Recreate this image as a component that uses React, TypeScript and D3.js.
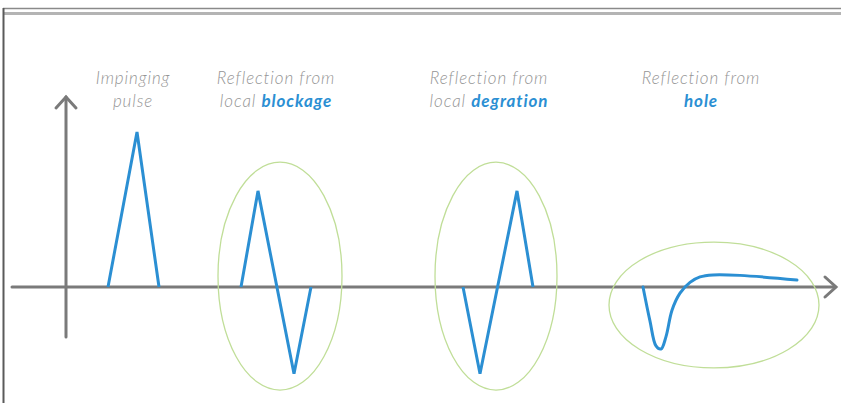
import * as d3 from 'd3'
import React from 'react'

// time units along the axis (origin = vertical axis), amplitude in units of the impinging pulse
const impinging: [number, number][] = [[42, 0], [71, 1], [93, 0]]
const blockage: [number, number][] = [[175, 0], [192, 0.62], [228, -0.56], [245, 0]]
const degration: [number, number][] = [[397, 0], [414, -0.56], [451, 0.62], [467, 0]]
const hole: [number, number][] = [
  [577, 0], [584, -0.22], [590, -0.38], [595, -0.4], [600, -0.32], [606, -0.15],
  [614, -0.04], [624, 0.03], [634, 0.065], [647, 0.078], [674, 0.075], [731, 0.045],
]

// ellipses around reflections: cx, cy, rx, ry (same units)
const rings = [
  { cx: 214, cy: 0.07, rx: 62, ry: 0.735 },
  { cx: 430, cy: 0.07, rx: 61, ry: 0.735 },
  { cx: 648, cy: -0.116, rx: 105, ry: 0.406 },
]

const labels = [
  { x: 67, lines: [[{ t: 'Impinging', hi: false }], [{ t: 'pulse', hi: false }]] },
  { x: 210, lines: [[{ t: 'Reflection from', hi: false }], [{ t: 'local ', hi: false }, { t: 'blockage', hi: true }]] },
  { x: 423, lines: [[{ t: 'Reflection from', hi: false }], [{ t: 'local ', hi: false }, { t: 'degration', hi: true }]] },
  { x: 635, lines: [[{ t: 'Reflection from', hi: false }], [{ t: 'hole', hi: true }]] },
]

const W = 841
const H = 403
const blue = '#2b8fd3'
const axisGrey = '#7a7a7a'

const x = d3.scaleLinear().domain([0, 770]).range([66, 836])
const y = d3.scaleLinear().domain([-1, 1]).range([442, 132])

const straight = d3.line<[number, number]>().x((d) => x(d[0])).y((d) => y(d[1]))
const smooth = d3
  .line<[number, number]>()
  .x((d) => x(d[0]))
  .y((d) => y(d[1]))
  .curve(d3.curveCatmullRom.alpha(0.5))

const App = () => {
  const x0 = x(0)
  const y0 = y(0)
  return (
    <svg
      width={W}
      height={H}
      style={{ position: 'fixed', left: 0, top: 0, background: '#fff' }}
      fontFamily="Lato, 'Open Sans', sans-serif"
    >
      {/* frame */}
      <line x1={3} x2={W} y1={8.5} y2={8.5} stroke="#8a8a8a" strokeWidth={1.5} />
      <line x1={3} x2={W} y1={13.5} y2={13.5} stroke="#b4b4b4" strokeWidth={3} />
      <line x1={3.5} x2={3.5} y1={8} y2={H} stroke="#5a5a5a" strokeWidth={2} />

      {/* axes */}
      <g stroke={axisGrey} strokeWidth={3} fill="none" strokeLinecap="round">
        <line x1={12} x2={x(770) - 1} y1={y0} y2={y0} />
        <line x1={x0} x2={x0} y1={337} y2={97} />
        <polyline points={`${x0 - 10},${108} ${x0},${97} ${x0 + 10},${108}`} />
        <polyline points={`${x(770) - 11},${y0 - 10} ${x(770)},${y0} ${x(770) - 11},${y0 + 10}`} />
      </g>

      {/* rings */}
      <g fill="none" stroke="#c0de98" strokeWidth={1.3}>
        {rings.map((r, i) => (
          <ellipse
            key={i}
            cx={x(r.cx)}
            cy={y(r.cy)}
            rx={x(r.rx) - x(0)}
            ry={y(0) - y(r.ry)}
          />
        ))}
      </g>

      {/* pulses */}
      <g fill="none" stroke={blue} strokeWidth={3} strokeLinejoin="miter">
        <path d={straight(impinging) ?? ''} />
        <path d={straight(blockage) ?? ''} />
        <path d={straight(degration) ?? ''} />
        <path d={smooth(hole) ?? ''} strokeLinecap="round" />
      </g>

      {/* labels */}
      <g fontSize={17} fontStyle="italic" textAnchor="middle" letterSpacing={0.9}>
        {labels.map((l, i) => (
          <g key={i}>
            {l.lines.map((ln, j) => (
              <text key={j} x={x(l.x)} y={84 + j * 23}>
                {ln.map((s, k) => (
                  <tspan
                    key={k}
                    fill={s.hi ? blue : '#959595'}
                    fontWeight={s.hi ? 700 : 300}
                  >
                    {s.t}
                  </tspan>
                ))}
              </text>
            ))}
          </g>
        ))}
      </g>
    </svg>
  )
}

export default App
